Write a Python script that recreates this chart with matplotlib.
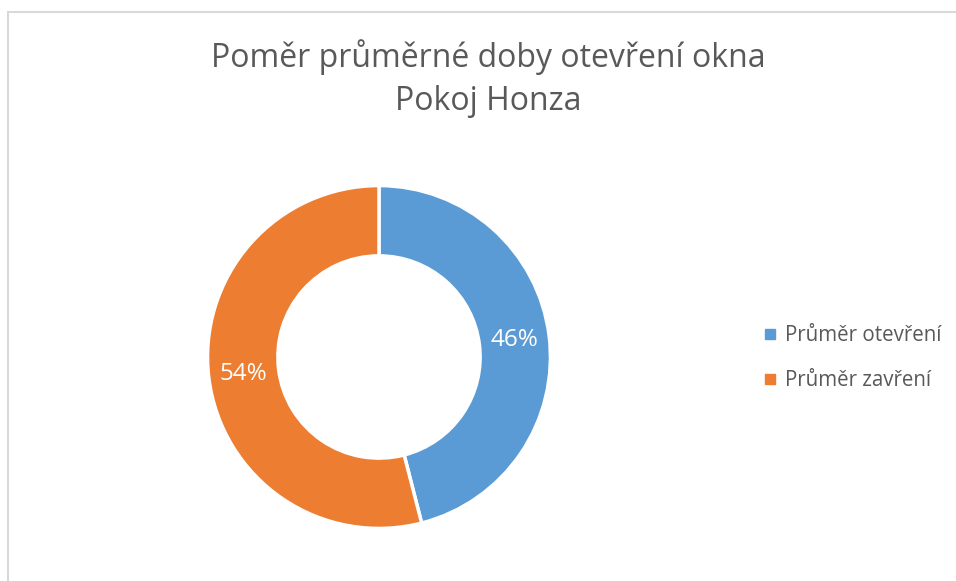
import matplotlib
matplotlib.use('Agg')
import matplotlib.pyplot as plt
from matplotlib.lines import Line2D
from matplotlib.patches import Rectangle

# data
kategorie = ['Průměr otevření', 'Průměr zavření']
podily = [46, 54]
barvy = ['#5B9BD5', '#ED7D31']
nadpis = ['Poměr průměrné doby otevření okna', 'Pokoj Honza']

plt.rcParams['font.family'] = ['Open Sans', 'DejaVu Sans']
seda = '#595959'

fig = plt.figure(figsize=(9.56, 5.81), dpi=100)

# ramecek grafu
fig.patches.append(Rectangle((7.5 / 956, -0.1), 1.2, (581 - 11.5) / 581 + 0.1,
                             transform=fig.transFigure, fill=False,
                             edgecolor='#D9D9D9', linewidth=1.5))

ax = fig.add_axes([199 / 956, 44 / 581, 360 / 956, 360 / 581])
wedges, texts, autotexts = ax.pie(
    podily, colors=barvy, startangle=90, counterclock=False,
    radius=1, autopct='%1.0f%%', pctdistance=0.795,
    wedgeprops=dict(width=0.41, edgecolor='white', linewidth=2.5),
    textprops=dict(color='white', fontsize=17.5))
ax.set_xlim(-1.05, 1.05)
ax.set_ylim(-1.05, 1.05)
ax.set_aspect('equal')

# nadpis - dva radky
fig.text(488 / 956, 1 - 57 / 581, nadpis[0], ha='center', va='center',
         fontsize=23, color=seda)
fig.text(488 / 956, 1 - 101 / 581, nadpis[1], ha='center', va='center',
         fontsize=23, color=seda)

handles = [Line2D([0], [0], marker='s', linestyle='none', markersize=7,
                  markerfacecolor=c, markeredgecolor=c) for c in barvy]
fig.legend(handles, kategorie, loc='center left',
           bbox_to_anchor=(741 / 956, 1 - 358 / 581), frameon=False,
           fontsize=14.8, labelcolor=seda, handletextpad=0.25,
           labelspacing=1.15, handlelength=1.0)

fig.savefig('out.png', dpi=100)
